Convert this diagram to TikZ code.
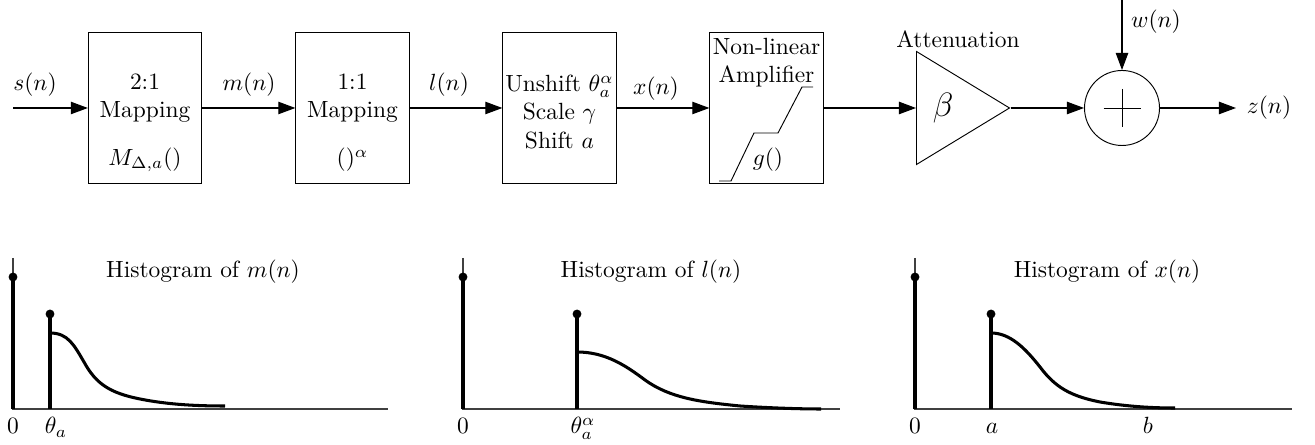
\documentclass[tikz,border=0pt]{standalone}
\usepackage{amsmath,amssymb}
\usepackage{tikz}
\usetikzlibrary{arrows.meta,shapes.geometric,calc}

\begin{document}
\begin{tikzpicture}[
      x=0.015cm, y=-0.015cm,
      >={Triangle[length=7.3pt,width=5.3pt]},
      blk/.style={draw,minimum width=1.70cm,minimum height=2.265cm,inner sep=0pt},
      sig/.style={->,line width=0.5pt},
      spike/.style={line width=2.1pt},
      stem/.style={line width=1.3pt},
      tip/.style={circle,fill,inner sep=0pt,minimum size=3.8pt},
      axis/.style={line width=0.5pt,color=black!75},
      hcurve/.style={line width=1.3pt},
    ]
    \useasboundingbox (0,0) rectangle (1315,445);
    % signal chain
    \coordinate (in) at (13,108);
    \node[blk] (map21) at (145,108) {};
    \node[blk] (map11) at (352.5,108) {};
    \node[blk] (usc)   at (559.5,108) {};
    \node[blk] (amp)   at (766.5,108) {};
    \node[draw,isosceles triangle,isosceles triangle stretches,inner sep=0pt,
          minimum height=1.395cm,minimum width=1.695cm,anchor=west] (att) at (916,108) {};
    \node[draw,circle,minimum size=1.125cm,inner sep=0pt] (sum) at (1122,108) {};
    \coordinate (noise) at (1122,0);
    \coordinate (out) at (1236,108);
    \draw[sig] (in) -- (map21);
    \draw[sig] (map21) -- (map11);
    \draw[sig] (map11) -- (usc);
    \draw[sig] (usc) -- (amp);
    \draw[sig] (amp) -- (att);
    \draw[sig] (att) -- (sum);
    \draw[sig] (sum) -- (out);
    \draw[sig] (noise) -- (sum);
    \draw (1103.5,108) -- (1140.5,108) (1122,89) -- (1122,127);
    \draw (719,181) -- (731,181) -- (754,133) -- (778,133) -- (802,87) -- (813,87);
    % block texts
    \node[align=center] (t21) at (145,98) {2:1\\Mapping};
    \node (tm) at (145,160) {$M_{\Delta,a}()$};
    \node[align=center] (t11) at (352.5,98) {1:1\\Mapping};
    \node (ta) at (352.5,160) {$()^{\alpha}$};
    \node[align=center,inner sep=0pt] (tu) at (559.5,112) {Unshift $\theta_a^{\alpha}$\\Scale $\gamma$\\Shift $a$};
    \node[align=center,anchor=north,inner sep=1pt] (tn) at (766.5,35) {Non-linear\\Amplifier};
    \node (tg) at (768,160) {$g()$};
    \node (tb) at (943,108) {\Large$\beta$};
    \node (tatt) at (958,39) {Attenuation};
    % signal labels
    \node (ls) at (35,85) {$s(n)$};
    \node (lm) at (249,85) {$m(n)$};
    \node (ll) at (449,85) {$l(n)$};
    \node (lx) at (656,89) {$x(n)$};
    \node (lw) at (1156,22) {$w(n)$};
    \node (lz) at (1269,108) {$z(n)$};
    % histogram of m(n)
    \draw[axis] (13,258) -- (13,409) -- (388,409);
    \draw[spike] (13,409) -- (13,277);
    \node[tip] (d1) at (13,277) {};
    \draw[stem] (50,409) -- (50,314);
    \node[tip] (e1) at (50,314) {};
    \draw[hcurve] (50,333) .. controls (68,333) and (74,345) .. (84,362)
        .. controls (96,384) and (110,393) .. (140,399)
        .. controls (170,405) and (200,406) .. (225,406);
    \node (h1) at (203,272) {Histogram of $m(n)$};
    \node[anchor=base] (z1) at (13,434) {$0$};
    \node[anchor=base] (a1) at (56,434) {$\theta_a$};
    % histogram of l(n)
    \draw[axis] (463,258) -- (463,409) -- (840,409);
    \draw[spike] (463,409) -- (463,277);
    \node[tip] (d2) at (463,277) {};
    \draw[stem] (577,409) -- (577,314);
    \node[tip] (e2) at (577,314) {};
    \draw[hcurve] (577,352) .. controls (605,352) and (625,365) .. (645,380)
        .. controls (670,398) and (700,402) .. (740,406)
        .. controls (770,408) and (800,409) .. (821,409);
    \node (h2) at (651,272) {Histogram of $l(n)$};
    \node[anchor=base] (z2) at (463,434) {$0$};
    \node[anchor=base] (a2) at (583,434) {$\theta_a^{\alpha}$};
    % histogram of x(n)
    \draw[axis] (915,258) -- (915,409) -- (1292,409);
    \draw[spike] (915,409) -- (915,277);
    \node[tip] (d3) at (915,277) {};
    \draw[stem] (991,409) -- (991,314);
    \node[tip] (e3) at (991,314) {};
    \draw[hcurve] (991,333) .. controls (1010,333) and (1025,348) .. (1040,367)
        .. controls (1055,387) and (1070,396) .. (1100,402)
        .. controls (1130,407) and (1155,408) .. (1175,408);
    \node (h3) at (1107,272) {Histogram of $x(n)$};
    \node[anchor=base] (z3) at (915,434) {$0$};
    \node[anchor=base] (a3) at (992,434) {$a$};
    \node[anchor=base] (b3) at (1148,434) {$b$};
  \end{tikzpicture}
\end{document}
